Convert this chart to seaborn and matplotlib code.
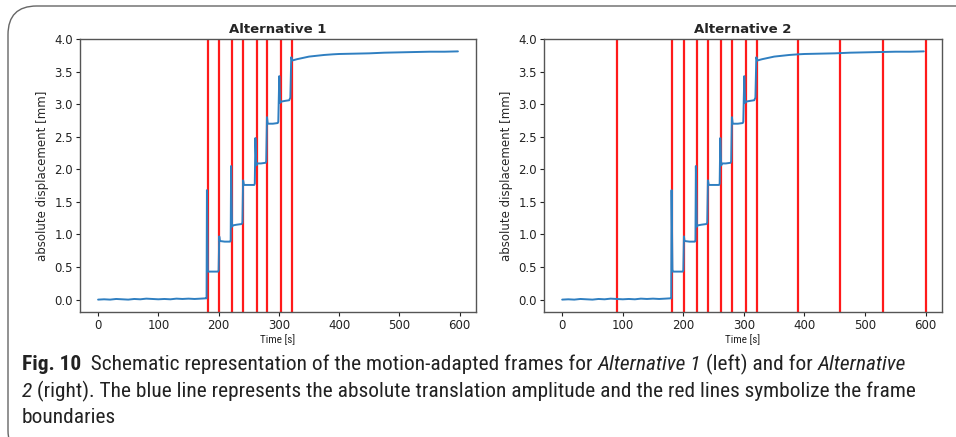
import numpy as np
import pandas as pd
import seaborn as sns
import matplotlib.pyplot as plt
from matplotlib import font_manager
from matplotlib.patches import FancyBboxPatch

# absolute displacement trace
time_s = [0, 10, 20, 30, 40, 50, 60, 70, 80, 90, 100, 110, 120, 130, 140, 150, 160, 170, 179,
          180, 180.6, 182, 183, 190, 199,
          200, 201, 202, 210, 219,
          220, 220.7, 222.3, 224, 230, 238,
          239.5, 240.6, 242, 250, 259,
          260, 261, 262.5, 264, 270, 278,
          279, 280.2, 281.5, 290, 298,
          299, 300.6, 302, 304, 310, 317,
          319, 320.5, 322, 330, 340, 350, 360, 375, 390, 400, 425, 450, 475, 500, 525, 550, 575, 597]
displacement = [0.0, 0.005, 0.0, 0.01, 0.005, 0.0, 0.01, 0.005, 0.015, 0.01, 0.005, 0.01, 0.005, 0.015, 0.01, 0.015, 0.01, 0.015, 0.02,
                0.02, 1.68, 0.46, 0.43, 0.43, 0.43,
                0.45, 0.97, 0.9, 0.89, 0.89,
                0.9, 2.05, 1.12, 1.14, 1.15, 1.16,
                1.18, 1.83, 1.76, 1.76, 1.76,
                1.78, 2.48, 2.06, 2.09, 2.09, 2.10,
                2.12, 2.80, 2.70, 2.70, 2.71,
                2.73, 3.43, 3.02, 3.04, 3.05, 3.06,
                3.1, 3.72, 3.67, 3.69, 3.71, 3.73, 3.74, 3.755, 3.765, 3.77, 3.775, 3.78, 3.79, 3.795, 3.80, 3.805, 3.805, 3.81]

# frame boundaries
frames_alt1 = [182, 201, 222, 241, 264, 281, 303, 322]
frames_alt2 = [90, 182, 201, 222, 241, 263, 281, 303, 321, 390, 459, 529, 600]

titles = ['Alternative 1', 'Alternative 2']

df = pd.DataFrame({'Time [s]': time_s, 'absolute displacement [mm]': displacement})

sns.set_theme(style='ticks')
plt.rcParams['font.family'] = ['DejaVu Sans']

# pick a narrow font for the caption, needs a regular and an italic face
fonts = font_manager.fontManager.ttflist
narrow = None
for cand in ['Liberation Sans Narrow', 'Roboto Condensed', 'Open Sans Condensed', 'DejaVu Sans Condensed']:
    faces = [f for f in fonts if f.name == cand]
    has_reg = any(f.style == 'normal' and f.weight in (400, 'normal', 'regular') for f in faces)
    has_it = any(f.style == 'italic' and f.weight in (400, 'normal', 'regular') for f in faces)
    if has_reg and has_it:
        narrow = cand
        break
if narrow is None:
    narrow = 'Roboto'
cap_font = [narrow, 'DejaVu Sans']

fig = plt.figure(figsize=(9.56, 4.37), dpi=100)
ax1 = fig.add_axes([80/956, 1-312/437, 396/956, 273/437])
ax2 = fig.add_axes([544/956, 1-312/437, 398/956, 273/437])

for ax, frames, title in zip([ax1, ax2], [frames_alt1, frames_alt2], titles):
    for f in frames:
        ax.axvline(f, color='#ff1a1a', lw=1.6, zorder=1)
    sns.lineplot(data=df, x='Time [s]', y='absolute displacement [mm]', ax=ax,
                 color='#2f7fc1', lw=1.4, zorder=2)
    ax.set_xlim(-30, 627)
    ax.set_ylim(-0.19, 4.0)
    ax.set_xticks([0, 100, 200, 300, 400, 500, 600])
    ax.set_yticks(np.arange(0, 4.01, 0.5))
    ax.tick_params(labelsize=8.5, length=3, width=0.8, colors='#222222', pad=2)
    ax.set_xlabel('Time [s]', fontsize=8, labelpad=2, family=cap_font)
    ax.set_ylabel('absolute displacement [mm]', fontsize=8.5, labelpad=4)
    ax.set_title(title, fontsize=9.5, fontweight='bold', pad=4)
    for s in ax.spines.values():
        s.set_color('#555555')
        s.set_linewidth(1.0)

# figure frame
box = FancyBboxPatch((8/956, -0.05), 1.2, 1-6/437+0.05, boxstyle='round,pad=0,rounding_size=0.03',
                     transform=fig.transFigure, fill=False, edgecolor='#666666', lw=1.0, mutation_aspect=956/437)
fig.patches.append(box)

# caption
line1 = [('Fig. 10', 'normal', 'bold'), ('  Schematic representation of the motion-adapted frames for ', 'normal', 'normal'),
         ('Alternative 1', 'italic', 'normal'), (' (left) and for ', 'normal', 'normal'), ('Alternative', 'italic', 'normal')]
line2 = [('2', 'italic', 'normal'), (' (right). The blue line represents the absolute translation amplitude and the red lines symbolize the frame', 'normal', 'normal')]
line3 = [('boundaries', 'normal', 'normal')]


def place_caption(fs):
    for t in list(fig.texts):
        t.remove()
    lines = []
    for parts, ybase in zip([line1, line2, line3], [370, 397, 423]):
        row = []
        for txt, style, weight in parts:
            row.append(fig.text(22/956, 1-ybase/437, txt, family=cap_font, style=style,
                                fontweight=weight, fontsize=fs, ha='left', va='baseline', color='#222222'))
        lines.append(row)
    fig.canvas.draw()
    r = fig.canvas.get_renderer()
    for row in lines:
        for a, b in zip(row[:-1], row[1:]):
            bb = a.get_window_extent(r)
            b.set_position((bb.x1 / fig.bbox.width, a.get_position()[1]))
    fig.canvas.draw()
    return lines[0][-1].get_window_extent(r).x1


# scale the caption so the first line ends where it does in the figure
fs = 11.5
end = place_caption(fs)
fs = fs * (907 - 22) / (end - 22)
place_caption(fs)

fig.savefig('out.png', dpi=100)
